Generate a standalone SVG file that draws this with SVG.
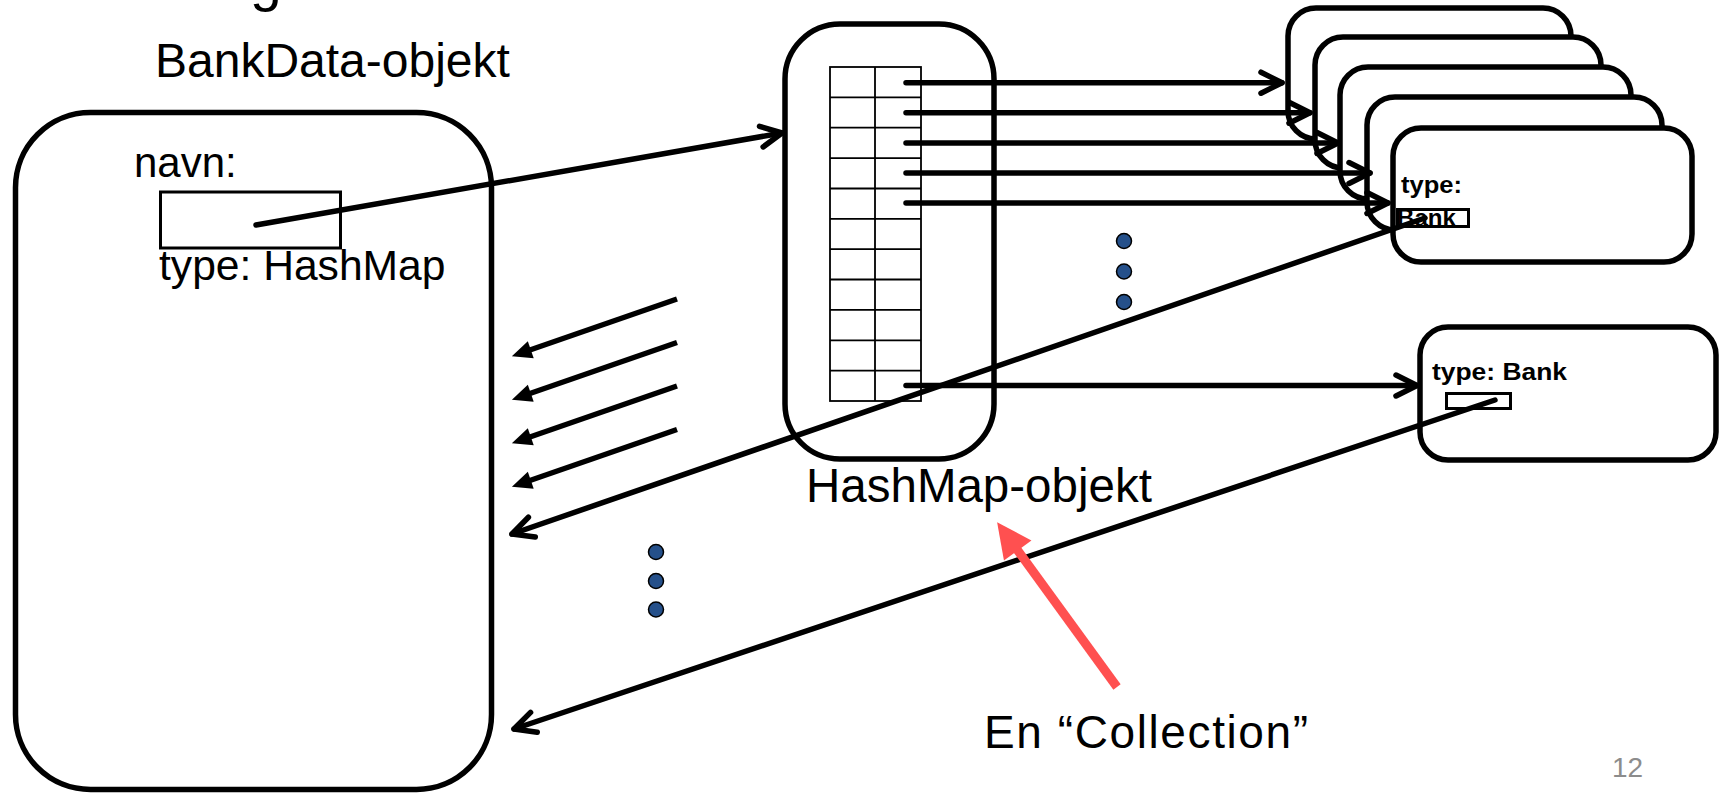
<svg xmlns="http://www.w3.org/2000/svg" width="1720" height="793" viewBox="0 0 1720 793">
<style>
  text { font-family: "Liberation Sans", Arial, sans-serif; fill: #000; }
  .big { font-size: 48px; }
  .mid { font-size: 42px; }
  .bold { font-weight: bold; font-size: 24px; }
  .obj { fill: #fff; stroke: #000; stroke-width: 5.5; }
  .cell { fill: none; stroke: #000; stroke-width: 1.8; }
  .ref { fill: none; stroke: #000; stroke-width: 3; }
  .conn { fill: none; stroke: #000; stroke-width: 5.5; }
  .open { marker-end: url(#vhead); stroke-linecap: round; }
  .filled { marker-end: url(#solid); }
  .red { fill: none; stroke: #FF5050; stroke-width: 9; marker-end: url(#redhead); }
  .dot { fill: #25508A; stroke: #000; stroke-width: 1.5; }
</style>
<defs>
  <marker id="vhead" markerUnits="userSpaceOnUse" viewBox="-28 -16 34 32" markerWidth="34" markerHeight="32" refX="0" refY="0" orient="auto">
    <path d="M-21,-10.5 L0,0 L-21,10.5" fill="none" stroke="#000" stroke-width="5.5" stroke-linecap="round" stroke-linejoin="round"/>
  </marker>
  <marker id="solid" markerUnits="userSpaceOnUse" viewBox="-2 -11 24 22" markerWidth="24" markerHeight="22" refX="4" refY="0" orient="auto">
    <path d="M0,-9 L20,0 L0,9 Z" fill="#000"/>
  </marker>
  <marker id="redhead" markerUnits="userSpaceOnUse" viewBox="-2 -19 40 38" markerWidth="40" markerHeight="38" refX="8" refY="0" orient="auto">
    <path d="M0,-17 L35,0 L0,17 Z" fill="#FF5050"/>
  </marker>
</defs>

<text x="250" y="0" style="font-size:57px">g</text>

<g id="bankdata">
  <text class="big" x="155" y="77">BankData-objekt</text>
  <rect class="obj" x="15.5" y="112.5" width="476" height="677" rx="75"/>
  <text class="mid" x="134" y="177">navn:</text>
  <rect class="ref" x="160.5" y="192" width="180" height="56"/>
  <text class="mid" x="159" y="280" style="font-size:42.6px">type: HashMap</text>
</g>

<g id="hashmap">
  <rect class="obj" x="785" y="24" width="209" height="435" rx="55"/>
  <rect class="cell" x="830" y="67" width="91" height="334"/>
  <path class="cell" d="M875,67 V401 M830,97.4 H921 M830,127.7 H921 M830,158.1 H921 M830,188.5 H921 M830,218.8 H921 M830,249.2 H921 M830,279.5 H921 M830,309.9 H921 M830,340.3 H921 M830,370.6 H921"/>
  <text class="big" x="806" y="502" style="font-size:47.5px">HashMap-objekt</text>
</g>

<g id="bank1"><rect class="obj" x="1288" y="8" width="283" height="131" rx="28"/></g>
<g id="bank2"><rect class="obj" x="1315" y="37" width="286" height="131" rx="28"/></g>
<g id="bank3"><rect class="obj" x="1340" y="67" width="291" height="132" rx="28"/></g>
<g id="bank4"><rect class="obj" x="1367" y="97" width="295" height="133" rx="28"/></g>
<g id="bank5">
  <rect class="obj" x="1393" y="128" width="299" height="134" rx="28"/>
  <text class="bold" x="1401" y="193" textLength="61" lengthAdjust="spacingAndGlyphs">type:</text>
  <rect class="ref" x="1397.5" y="209.5" width="71" height="17"/>
  <text class="bold" x="1397" y="226" textLength="59" lengthAdjust="spacingAndGlyphs">Bank</text>
</g>
<g id="bank6">
  <rect class="obj" x="1420" y="327" width="296" height="133" rx="28"/>
  <text class="bold" x="1432" y="380" textLength="135" lengthAdjust="spacingAndGlyphs">type: Bank</text>
  <rect class="ref" x="1446.5" y="393.5" width="64" height="15"/>
</g>

<g id="dots">
  <circle class="dot" cx="1124" cy="241" r="7.5"/>
  <circle class="dot" cx="1124" cy="271.5" r="7.5"/>
  <circle class="dot" cx="1124" cy="302" r="7.5"/>
  <circle class="dot" cx="656" cy="552" r="7.5"/>
  <circle class="dot" cx="656" cy="581" r="7.5"/>
  <circle class="dot" cx="656" cy="609.5" r="7.5"/>
</g>

<g id="connectors">
  <path class="conn open" d="M256,225 L782,133"/>
  <path class="conn open" d="M906,82.7 L1282,82.7"/>
  <path class="conn open" d="M906,112.7 L1310,112.7"/>
  <path class="conn open" d="M906,143 L1338,143"/>
  <path class="conn open" d="M906,173 L1370,173"/>
  <path class="conn open" d="M906,203 L1388,203"/>
  <path class="conn open" d="M906,385.5 L1417,385.5"/>
  <path class="conn filled" d="M677,299 L527,351"/>
  <path class="conn filled" d="M677,342.5 L527,394.5"/>
  <path class="conn filled" d="M677,386 L527,438"/>
  <path class="conn filled" d="M677,429.5 L527,481.5"/>
  <path class="conn open" d="M1425,218 L512,534"/>
  <path class="conn open" d="M1495,400 L514,729"/>
  <path class="red" d="M1117,687 L1013,544"/>
</g>

<g id="labels">
  <text x="984" y="748" style="font-size:46px" textLength="324" lengthAdjust="spacing">En “Collection”</text>
  <text x="1612" y="777" style="font-size:28px;fill:#8C8C8C">12</text>
</g>
</svg>
